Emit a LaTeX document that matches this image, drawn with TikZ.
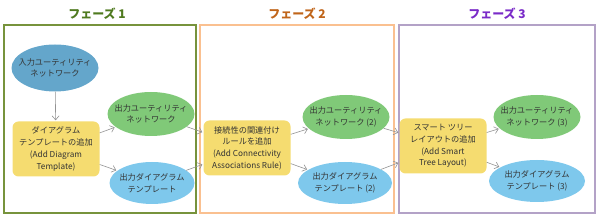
\documentclass[tikz,border=0pt]{standalone}
\usepackage{fontspec}
\setmainfont{Noto Sans CJK JP}
\usetikzlibrary{shapes.geometric,arrows.meta}
\definecolor{frA}{HTML}{77933C}
\definecolor{frB}{HTML}{FAC090}
\definecolor{frC}{HTML}{B3A2C7}
\definecolor{tA}{HTML}{4F7A1F}
\definecolor{tB}{HTML}{C0651A}
\definecolor{tC}{HTML}{7A2BC8}
\definecolor{cin}{HTML}{64A6CB}
\definecolor{cyel}{HTML}{F5DC70}
\definecolor{cgrn}{HTML}{80C978}
\definecolor{cblu}{HTML}{7EC8EC}
\definecolor{txt}{HTML}{333333}
\tikzset{
  x=1pt,y=1pt,
  frame/.style={line width=2pt},
  ttl/.style={font=\bfseries\fontsize{12}{14}\selectfont},
  lbl/.style={font=\fontsize{8.2}{11.7}\selectfont, text=txt, align=center, inner sep=0pt},
  ell/.style={lbl, ellipse, minimum width=#1, inner xsep=-10pt, inner ysep=0pt},
  inp/.style={ell=87pt, fill=cin, minimum height=47pt},
  grn/.style={ell=87pt, fill=cgrn, minimum height=44pt},
  blu/.style={ell=#1, fill=cblu, minimum height=42pt},
  yel/.style={lbl, rectangle, rounded corners=6pt, fill=cyel, minimum width=87pt, minimum height=55pt},
  arr/.style={draw=gray!85, line width=0.6pt, -{Straight Barb[length=4pt,width=7pt]}, shorten >=1pt},
}
\begin{document}
\begin{tikzpicture}
\useasboundingbox (0,0) rectangle (600,219);
% frames
\draw[frame, frA] (4,6) rectangle (196,194);
\draw[frame, frB] (200,6) rectangle (394,194);
\draw[frame, frC] (399,6) rectangle (595,194);
\node[ttl, text=tA] (t1) at (97,205) {フェーズ 1};
\node[ttl, text=tB] (t2) at (297,205) {フェーズ 2};
\node[ttl, text=tC] (t3) at (497,205) {フェーズ 3};
% phase 1
\node[inp] (in) at (55,151) {入力ユーティリティ\\ネットワーク};
\node[yel] (y1) at (56,70) {ダイアグラム\\テンプレートの追加\\(Add Diagram\\Template)};
\node[grn] (g1) at (151,105) {出力ユーティリティ\\ネットワーク};
\node[blu=85pt] (b1) at (152,36) {出力ダイアグラム\\テンプレート};
% phase 2
\node[yel] (y2) at (247,71) {接続性の関連付け\\ルールを追加\\(Add Connectivity\\Associations Rule)};
\node[grn] (g2) at (346,102) {出力ユーティリティ\\ネットワーク (2)};
\node[blu=94pt] (b2) at (345,36) {出力ダイアグラム\\テンプレート (2)};
% phase 3
\node[yel] (y3) at (443,73) {スマート ツリー\\レイアウトの追加\\(Add Smart\\Tree Layout)};
\node[grn] (g3) at (537,102) {出力ユーティリティ\\ネットワーク (3)};
\node[blu=96pt] (b3) at (537,38) {出力ダイアグラム\\テンプレート (3)};
% arrows
\draw[arr] (in) -- (y1);
\draw[arr] (y1) -- (g1);
\draw[arr] (y1) -- (b1);
\draw[arr] (g1) -- (y2);
\draw[arr] (b1) -- (y2);
\draw[arr] (y2) -- (g2);
\draw[arr] (y2) -- (b2);
\draw[arr] (g2) -- (y3);
\draw[arr] (b2) -- (y3);
\draw[arr] (y3) -- (g3);
\draw[arr] (y3) -- (b3);
\end{tikzpicture}
\end{document}
